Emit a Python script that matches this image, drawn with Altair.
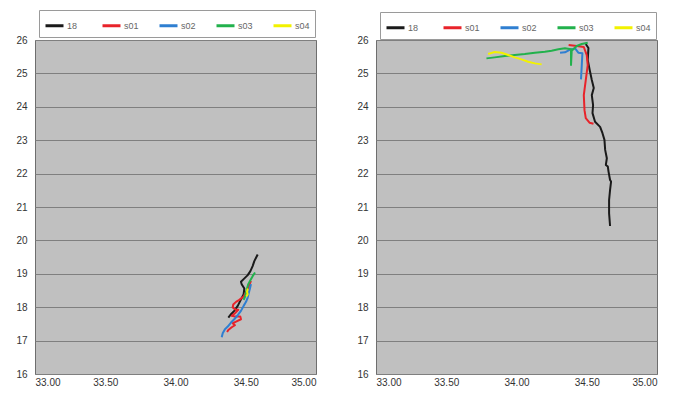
import altair as alt
import pandas as pd

series = ["18", "s01", "s02", "s03", "s04"]
colors = ["#1a1a1a", "#e8232a", "#2f7fd1", "#22b14c", "#f2f200"]
x_ticks = [33.0, 33.5, 34.0, 34.5, 35.0]
y_ticks = [16, 17, 18, 19, 20, 21, 22, 23, 24, 25, 26]

# ---- left panel ----
L18_x = [34.585, 34.561, 34.549, 34.533, 34.514, 34.485, 34.466, 34.471, 34.490, 34.485, 34.461, 34.443, 34.418, 34.395, 34.376]
L18_y = [19.58, 19.38, 19.23, 19.08, 18.96, 18.84, 18.76, 18.69, 18.56, 18.39, 18.19, 18.04, 17.89, 17.79, 17.69]
L01_x = [34.537, 34.514, 34.485, 34.454, 34.431, 34.411, 34.407, 34.431, 34.447, 34.423, 34.400, 34.423, 34.461, 34.466, 34.431, 34.407, 34.423, 34.400, 34.376, 34.367]
L01_y = [18.79, 18.54, 18.32, 18.22, 18.16, 18.08, 17.99, 17.92, 17.92, 17.82, 17.74, 17.72, 17.72, 17.64, 17.57, 17.52, 17.46, 17.40, 17.32, 17.26]
L02_x = [34.329, 34.336, 34.352, 34.372, 34.395, 34.418, 34.443, 34.466, 34.485, 34.502, 34.514, 34.521, 34.530, 34.537]
L02_y = [17.10, 17.22, 17.34, 17.42, 17.54, 17.64, 17.76, 17.89, 18.04, 18.16, 18.29, 18.42, 18.56, 18.69]
L03_x = [34.566, 34.549, 34.533, 34.518, 34.509, 34.502, 34.495, 34.485]
L03_y = [19.04, 18.93, 18.81, 18.69, 18.56, 18.44, 18.32, 18.22]
L04_x = [34.514, 34.509, 34.514, 34.504]
L04_y = [18.56, 18.46, 18.39, 18.32]

# ---- right panel ----
R18_x = [34.493, 34.512, 34.507, 34.521, 34.536, 34.550, 34.536, 34.545, 34.541, 34.559, 34.595, 34.612, 34.626, 34.631, 34.643, 34.636, 34.650, 34.655, 34.666, 34.673, 34.666, 34.659, 34.659, 34.666]
R18_y = [25.88, 25.76, 25.40, 25.10, 24.80, 24.56, 24.35, 24.05, 23.81, 23.55, 23.40, 23.21, 23.01, 22.71, 22.46, 22.26, 22.21, 22.06, 21.81, 21.76, 21.51, 21.21, 20.81, 20.43]
R01_x = [34.371, 34.429, 34.479, 34.500, 34.507, 34.493, 34.479, 34.484, 34.493, 34.521, 34.548]
R01_y = [25.85, 25.82, 25.79, 25.55, 25.25, 24.80, 24.35, 23.90, 23.66, 23.52, 23.49]
R02_x = [34.310, 34.345, 34.374, 34.417, 34.440, 34.469, 34.464, 34.459]
R02_y = [25.62, 25.63, 25.70, 25.75, 25.62, 25.60, 25.20, 24.82]
R03_x = [33.786, 33.845, 33.917, 33.988, 34.059, 34.131, 34.202, 34.250, 34.298, 34.345, 34.388, 34.388, 34.393, 34.429, 34.464, 34.507]
R03_y = [25.45, 25.48, 25.52, 25.55, 25.58, 25.62, 25.65, 25.68, 25.72, 25.75, 25.72, 25.25, 25.68, 25.82, 25.88, 25.92]
R04_x = [33.798, 33.845, 33.893, 33.941, 33.988, 34.036, 34.083, 34.131, 34.179]
R04_y = [25.58, 25.64, 25.62, 25.55, 25.48, 25.42, 25.35, 25.30, 25.27]


def build(pairs):
    rows = []
    for name, xs, ys in pairs:
        for i, (xv, yv) in enumerate(zip(xs, ys)):
            rows.append({"series": name, "i": i, "x": xv, "y": yv})
    return pd.DataFrame(rows)


left_df = build([("18", L18_x, L18_y), ("s01", L01_x, L01_y), ("s02", L02_x, L02_y),
                 ("s03", L03_x, L03_y), ("s04", L04_x, L04_y)])
right_df = build([("18", R18_x, R18_y), ("s01", R01_x, R01_y), ("s02", R02_x, R02_y),
                  ("s03", R03_x, R03_y), ("s04", R04_x, R04_y)])


def panel(df, ly):
    return alt.Chart(df).mark_line(strokeWidth=2, strokeJoin="round").encode(
        x=alt.X("x:Q", scale=alt.Scale(domain=[33, 35], nice=False, zero=False),
                axis=alt.Axis(values=x_ticks, format=".2f", title=None, grid=False,
                              ticks=False, labelPadding=3)),
        y=alt.Y("y:Q", scale=alt.Scale(domain=[16, 26], nice=False, zero=False),
                axis=alt.Axis(values=y_ticks, format="d", title=None, grid=True,
                              gridColor="#7f7f7f", gridWidth=1.2, ticks=False,
                              labelPadding=8)),
        color=alt.Color("series:N", scale=alt.Scale(domain=series, range=colors),
                        legend=alt.Legend(title=None, orient="none", legendX=4, legendY=ly,
                                          direction="horizontal", columns=5,
                                          symbolType="stroke", symbolSize=324,
                                          symbolStrokeWidth=3, labelFontSize=9,
                                          labelColor="#666", labelOffset=2,
                                          columnPadding=14, gridAlign="all",
                                          strokeColor="#9a9a9a", fillColor="white",
                                          padding=5)),
        order=alt.Order("i:Q"),
    ).properties(width=281, height=334)


chart = alt.hconcat(panel(left_df, -30), panel(right_df, -28), spacing=39).resolve_scale(
    color="independent").resolve_legend(color="independent").properties(
    padding={"left": 7, "top": 1, "right": 0, "bottom": 0}
).configure_view(fill="#c0c0c0", stroke="#6e6e6e", strokeWidth=1).configure_axis(
    labelFont="Liberation Sans", labelFontSize=10, labelColor="#333", domain=False
).configure_legend(labelFont="Liberation Sans")

chart.save("out.html", embed_options={"renderer": "svg", "actions": False})
